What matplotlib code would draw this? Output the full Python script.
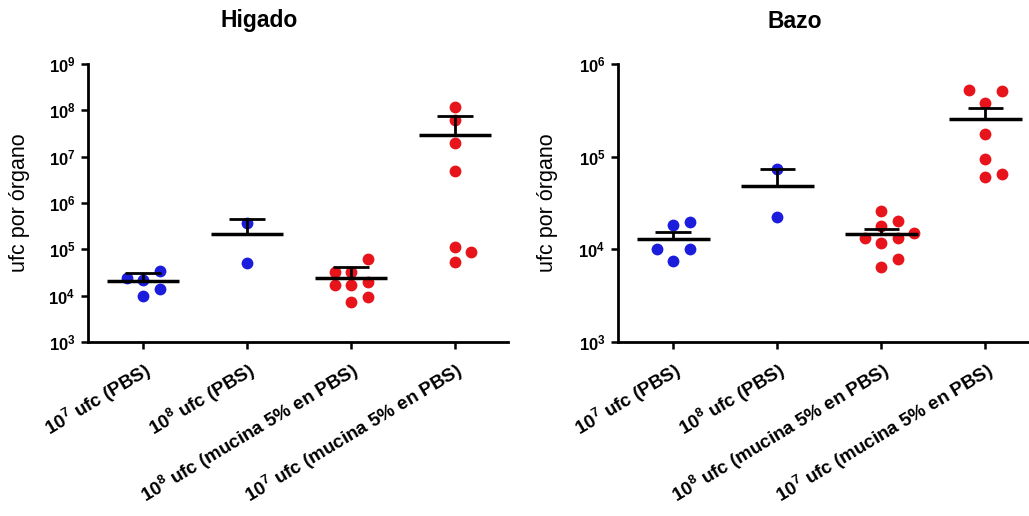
import matplotlib.pyplot as plt
import numpy as np

plt.rcParams['font.family'] = ['Liberation Sans', 'DejaVu Sans']
plt.rcParams['mathtext.fontset'] = 'custom'
plt.rcParams['mathtext.rm'] = 'Liberation Sans'
plt.rcParams['mathtext.bf'] = 'Liberation Sans:bold'

# groups on the x axis
groups = [r'$\mathbf{10^{7}}$ ufc (PBS)',
          r'$\mathbf{10^{8}}$ ufc (PBS)',
          r'$\mathbf{10^{8}}$ ufc (mucina 5% en PBS)',
          r'$\mathbf{10^{7}}$ ufc (mucina 5% en PBS)']

# ufc per organ
higado = [
    [34000, 24000, 21800, 14000, 9900],
    [375000, 51000],
    [61700, 32500, 32500, 19800, 17000, 17000, 9400, 7200],
    [1.2e8, 6.2e7, 2.0e7, 4.9e6, 1.12e5, 8.7e4, 5.4e4],
]
bazo = [
    [19600, 18200, 10000, 10000, 7450],
    [73500, 22300],
    [25900, 20200, 17800, 15000, 13200, 13200, 11700, 7850, 6440],
    [522000, 511000, 378000, 175000, 94200, 64900, 60300],
]
higado_ticks = [3, 4, 5, 6, 7, 8, 9]
bazo_ticks = [3, 4, 5, 6]

colors = ['#1c1cdc', '#1c1cdc', '#e8141c', '#e8141c']


def swarm_offsets(ax, values, step_px=16.5, min_gap=13):
    # place points on a grid of columns so they don't pile up (like Prism)
    pts = np.column_stack([np.zeros(len(values)), values])
    pix = ax.transData.transform(pts)[:, 1]
    placed = []
    offs = np.zeros(len(values))
    for i in np.argsort(pix):
        for k in [0, 1, -1, 2, -2, 3, -3]:
            if all(abs(pix[i] - pix[j]) >= min_gap for j, kk in placed if kk == k):
                break
        placed.append((i, k))
        offs[i] = k
    px_unit = ax.transData.transform([[1, 1]])[0, 0] - ax.transData.transform([[0, 1]])[0, 0]
    return offs * step_px / px_unit


def draw_panel(ax, data, ticks, xmax, use_sem):
    ax.set_yscale('log')
    ax.set_ylim(10.0 ** ticks[0], 10.0 ** ticks[-1])
    ax.set_xlim(-0.53, xmax)
    for i, vals in enumerate(data):
        vals = np.array(vals, dtype=float)
        x = i + swarm_offsets(ax, vals)
        ax.plot(x, vals, 'o', color=colors[i], ms=8.5, mec='none', zorder=2, clip_on=False)
        mean = vals.mean()
        err = vals.std(ddof=1)
        if use_sem:
            err = err / np.sqrt(len(vals))
        ax.hlines(mean, i - 0.35, i + 0.35, color='black', lw=2.5, zorder=3)
        ax.vlines(i, mean, mean + err, color='black', lw=2, zorder=3)
        ax.hlines(mean + err, i - 0.17, i + 0.17, color='black', lw=2, zorder=3)

    ax.set_yticks([10.0 ** t for t in ticks])
    ax.set_yticklabels([r'$\mathbf{10^{%d}}$' % t for t in ticks], fontsize=12)
    ax.yaxis.set_minor_locator(plt.NullLocator())
    ax.set_xticks(range(len(groups)))
    ax.set_xticklabels(groups, rotation=31, ha='right', rotation_mode='anchor',
                       fontsize=13.5, fontweight='bold')
    ax.tick_params(axis='both', direction='out', length=5, width=1.8, pad=4)
    ax.tick_params(axis='x', pad=7)
    for s in ['top', 'right']:
        ax.spines[s].set_visible(False)
    for s in ['left', 'bottom']:
        ax.spines[s].set_linewidth(2)


fig = plt.figure(figsize=(10.29, 5.16), dpi=100)
ax1 = fig.add_axes([88 / 1029, 174 / 516, 420 / 1029, 278 / 516])
ax2 = fig.add_axes([618 / 1029, 174 / 516, 411 / 1029, 278 / 516])

draw_panel(ax1, higado, higado_ticks, 3.51, use_sem=False)
draw_panel(ax2, bazo, bazo_ticks, 3.42, use_sem=True)

fig.text(259 / 1029, 1 - 21 / 516, 'Higado', ha='center', va='center', fontsize=16.5, fontweight='bold')
fig.text(795 / 1029, 1 - 21 / 516, 'Bazo', ha='center', va='center', fontsize=16.5, fontweight='bold')
fig.text(20 / 1029, 1 - 203 / 516, 'ufc por órgano', rotation=90, ha='center', va='center', fontsize=15.5)
fig.text(547 / 1029, 1 - 203 / 516, 'ufc por órgano', rotation=90, ha='center', va='center', fontsize=15.5)

fig.savefig('out.png', dpi=100)
